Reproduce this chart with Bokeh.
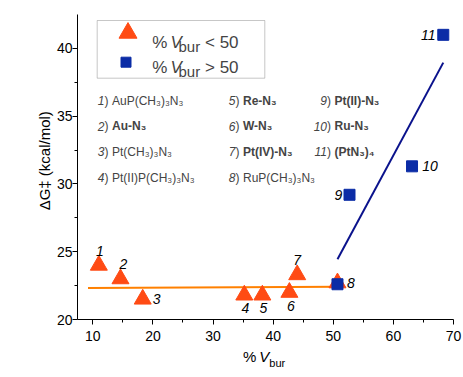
from bokeh.plotting import figure
from bokeh.models import Label, BoxAnnotation, FixedTicker, Div
from bokeh.layouts import column
from bokeh.embed import file_html
from bokeh.resources import INLINE

# ---------------- data ----------------
tri_x = [11.0, 14.6, 18.3, 35.2, 38.2, 42.7, 44.0, 50.7]
tri_y = [24.0, 23.0, 21.5, 21.8, 21.8, 22.0, 23.3, 22.7]
sq_x = [50.7, 52.7, 63.1, 68.3]
sq_y = [22.6, 29.2, 31.3, 41.0]
fit_low_x = [9.2, 50.9]
fit_low_y = [22.33, 22.42]
fit_high_x = [50.7, 68.3]
fit_high_y = [24.45, 38.95]
point_ids = ["1", "2", "3", "4", "5", "6", "7", "8", "9", "10", "11"]
x_ticks = [10, 20, 30, 40, 50, 60, 70]
y_ticks = [20, 25, 30, 35, 40]
compound_nums = ["1", "2", "3", "4", "5", "6", "7", "8", "9", "10", "11"]
compound_names = ["AuP(CH\u2083)\u2083N\u2083", "Au-N\u2083", "Pt(CH\u2083)\u2083N\u2083",
                  "Pt(II)P(CH\u2083)\u2083N\u2083", "Re-N\u2083", "W-N\u2083", "Pt(IV)-N\u2083",
                  "RuP(CH\u2083)\u2083N\u2083", "Pt(II)-N\u2083", "Ru-N\u2083", "(PtN\u2083)\u2084"]
compound_bold = [False, True, False, False, True, True, True, False, True, True, True]
legend_rel = ["< 50", "> 50"]
y_label = "\u00a0\u00a0\u00a0\u0394G\u2021 (kcal/mol)"

# ---------------- styles / layout ----------------
TRI_COLOR = "#FF4B14"
SQ_COLOR = "#0B2CA6"
LOW_LINE = "#FF8000"
HIGH_LINE = "#0A128C"
FONT = "Liberation Sans"

FL, FT, FW, FH = 77, 14, 376, 305
FIG_H = 345
XR = (7.45, 70.0)
YR = (20.0, 42.5)

p = figure(frame_width=FW, frame_height=FH, x_range=XR, y_range=YR,
           output_backend="svg", toolbar_location=None, title=None,
           min_border_left=FL, min_border_right=9, min_border_top=FT,
           min_border_bottom=FIG_H - FT - FH)
p.xgrid.visible = False
p.ygrid.visible = False
p.outline_line_color = None
p.background_fill_color = "white"
p.border_fill_color = "white"

# page-pixel -> data helpers
def X(px):
    return XR[0] + (px - FL) * (XR[1] - XR[0]) / FW

def Y(py):
    return YR[0] + (FT + FH - py) * (YR[1] - YR[0]) / FH

for ax in (p.xaxis[0], p.yaxis[0]):
    ax.axis_line_color = "black"
    ax.axis_line_width = 1
    ax.major_tick_line_color = "black"
    ax.minor_tick_line_color = "black"
    ax.major_tick_in = 0
    ax.major_tick_out = 5
    ax.minor_tick_in = 0
    ax.minor_tick_out = 3
    ax.major_label_text_font = FONT
    ax.major_label_text_font_size = "14px"
    ax.major_label_text_color = "black"
p.xaxis.major_label_standoff = 6
p.yaxis.major_label_standoff = 0

p.xaxis.ticker = FixedTicker(ticks=x_ticks, minor_ticks=[t + 5 for t in x_ticks[:-1]])
p.yaxis.ticker = FixedTicker(ticks=y_ticks, minor_ticks=[t + 2.5 for t in y_ticks[:-1]])
p.yaxis.axis_label = y_label
p.yaxis.axis_label_text_font = FONT
p.yaxis.axis_label_text_font_size = "15px"
p.yaxis.axis_label_text_font_style = "normal"
p.yaxis.axis_label_text_color = "black"
p.yaxis.axis_label_standoff = 1

# fit lines
p.line(fit_low_x, fit_low_y, line_color=LOW_LINE, line_width=2)
p.line(fit_high_x, fit_high_y, line_color=HIGH_LINE, line_width=2)

# data markers
p.scatter(tri_x, tri_y, marker="triangle", size=17, fill_color=TRI_COLOR, line_color=TRI_COLOR)
p.scatter(sq_x, sq_y, marker="square", size=11, fill_color=SQ_COLOR, line_color=SQ_COLOR)

# point labels
label_x = tri_x + sq_x[1:]
label_y = tri_y + sq_y[1:]
label_offsets = [(1, 14), (3, 15), (14, 0), (1, -12.5), (1, -13), (1.5, -14), (0, 15),
                 (13.5, 0), (-11, 0), (18, 0), (-15, 0)]
for xi, yi, t, (dx, dy) in zip(label_x, label_y, point_ids, label_offsets):
    p.add_layout(Label(x=xi, y=yi, text=t, x_offset=dx, y_offset=dy,
                       text_align="center", text_baseline="middle",
                       text_font=FONT, text_font_style="italic",
                       text_font_size="14px", text_color="black"))

# legend
p.add_layout(BoxAnnotation(left=X(96.7), right=X(264.3), top=Y(20), bottom=Y(77.7),
                           fill_color="white", fill_alpha=1.0, line_color="#444444",
                           line_width=1, level="underlay"))
p.scatter([X(127.5)], [Y(32.5)], marker="triangle", size=18, fill_color=TRI_COLOR, line_color=TRI_COLOR)
p.scatter([X(125.5)], [Y(61.7)], marker="square", size=10, fill_color=SQ_COLOR, line_color=SQ_COLOR)
for rel, base in zip(legend_rel, [41.7, 66.7]):
    p.add_layout(Label(x=X(151.7), y=Y(base), text="%", text_font=FONT, text_font_size="17px",
                       text_baseline="alphabetic"))
    p.add_layout(Label(x=X(170.0), y=Y(base), text="V", text_font=FONT, text_font_size="17px",
                       text_font_style="italic", text_baseline="alphabetic"))
    p.add_layout(Label(x=X(178.0), y=Y(base + 4), text="bur", text_font=FONT, text_font_size="15px",
                       text_baseline="alphabetic"))
    p.add_layout(Label(x=X(204.5), y=Y(base), text=rel, text_font=FONT, text_font_size="17px",
                       text_baseline="alphabetic"))

# compound list
col_paren = [104, 235, 326.5]
row_base = [100, 125.7, 151.3, 177]
for i, (num, name, bold) in enumerate(zip(compound_nums, compound_names, compound_bold)):
    col = 0 if i < 4 else (1 if i < 8 else 2)
    row = i - 4 * col
    xp = X(col_paren[col])
    yb = Y(row_base[row])
    p.add_layout(Label(x=xp, y=yb, text=num, text_align="right", text_baseline="alphabetic",
                       text_font=FONT, text_font_style="italic", text_font_size="12px"))
    p.add_layout(Label(x=xp, y=yb, text=")", text_align="left", text_baseline="alphabetic",
                       text_font=FONT, text_font_size="12px"))
    p.add_layout(Label(x=xp, y=yb, x_offset=7.5, text=name, text_align="left",
                       text_baseline="alphabetic", text_font=FONT,
                       text_font_style="bold" if bold else "normal", text_font_size="12px"))

# x axis label (%V_bur) as rich text below the plot
xlab = Div(
    text=('<span style="font-family:\'Liberation Sans\';font-size:15px;line-height:15px;'
          'color:black;white-space:nowrap">%&thinsp;<i>V</i>'
          '<span style="font-size:11px;position:relative;top:5px">bur</span></span>'),
    width=FL + FW + 9, height=377 - FIG_H, margin=0,
    styles={"padding-left": "243px", "padding-top": "4px", "box-sizing": "border-box"})

layout = column(p, xlab, spacing=0)
open("out.html", "w").write(file_html(layout, INLINE))
